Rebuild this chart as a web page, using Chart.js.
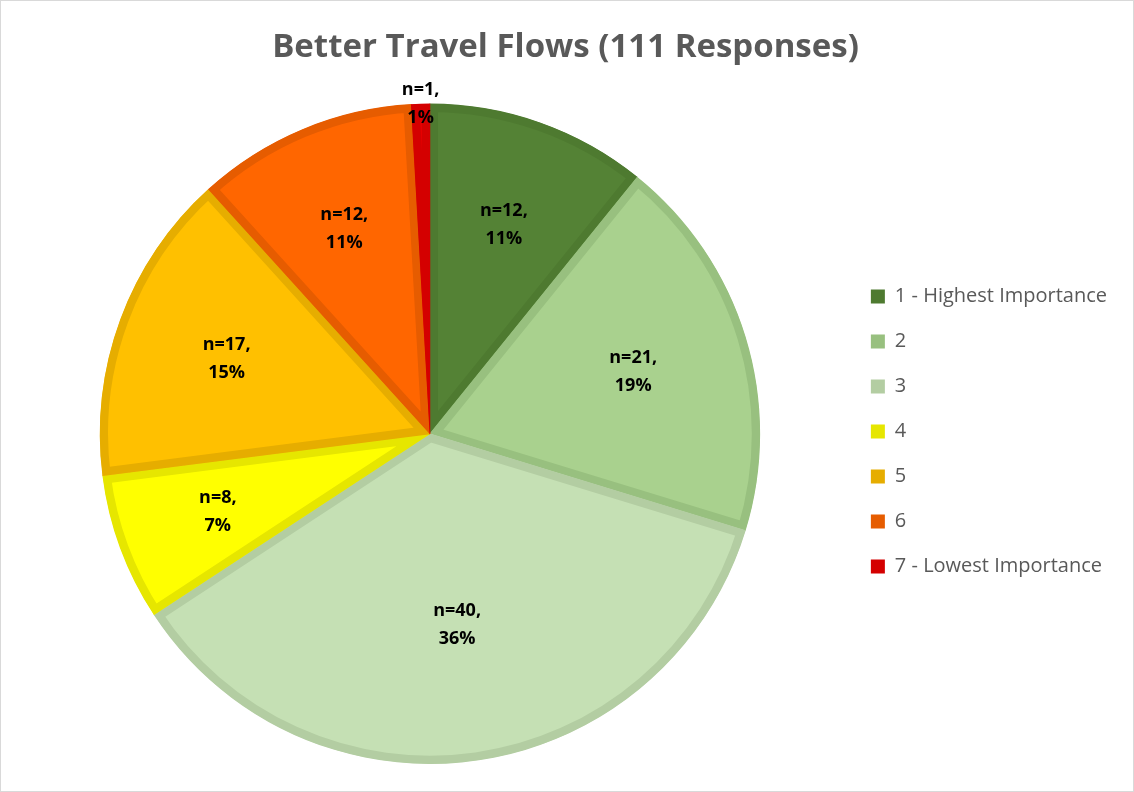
<!DOCTYPE html>
<html>
<head>
<meta charset="utf-8">
<script src="https://cdn.jsdelivr.net/npm/chart.js@4.4.0/dist/chart.umd.min.js"></script>
<style>
  html, body { margin: 0; padding: 0; background: #fff; }
  #wrap { position: relative; width: 1134px; height: 792px; box-sizing: border-box; border: 1px solid #d9d9d9; }
  #pie { display: block; }
</style>
</head>
<body>
<div id="wrap"><canvas id="pie" width="1132" height="790"></canvas></div>
<script>
// data
const labels = ["1 - Highest Importance", "2", "3", "4", "5", "6", "7 - Lowest Importance"];
const counts = [12, 21, 40, 8, 17, 12, 1];
const fillColors = ["#548235", "#a9d18e", "#c5e0b4", "#ffff00", "#ffc000", "#ff6600", "#e80000"];
const edgeColors = ["#4e7a30", "#98c07f", "#b3cda2", "#e6e600", "#e6ad00", "#e65c00", "#d40000"];

const total = counts.reduce(function (a, b) { return a + b; }, 0);

// draws the "n=12, 11%" labels on each slice
const sliceLabels = {
  id: "sliceLabels",
  afterDatasetsDraw: function (chart) {
    const ctx = chart.ctx;
    const meta = chart.getDatasetMeta(0);
    ctx.save();
    ctx.font = "bold 18px 'Open Sans'";
    ctx.fillStyle = "#000";
    ctx.textAlign = "center";
    ctx.textBaseline = "middle";
    meta.data.forEach(function (arc, i) {
      const mid = (arc.startAngle + arc.endAngle) / 2;
      const share = counts[i] / total;
      const small = share < 0.03;
      const r = small ? arc.outerRadius : arc.outerRadius * (0.71 - 0.35 * share);
      const x = arc.x + Math.cos(mid) * r;
      const y = arc.y + Math.sin(mid) * r;
      const pct = Math.round(share * 100) + "%";
      ctx.fillText("n=" + counts[i] + ",", x, y - 14);
      ctx.fillText(pct, x, y + 14);
    });
    ctx.restore();
  }
};

function renderChart() {
  const ctx = document.getElementById("pie").getContext("2d");
  new Chart(ctx, {
    type: "pie",
    data: {
      labels: labels,
      datasets: [{
        data: counts,
        backgroundColor: fillColors,
        borderColor: edgeColors,
        borderWidth: 8,
        borderAlign: "inner"
      }]
    },
    options: {
      responsive: false,
      animation: false,
      layout: { padding: { left: 13, right: 16, top: 0, bottom: 27 } },
      plugins: {
        title: {
          display: true,
          text: "Better Travel Flows (111 Responses)",
          color: "#595959",
          font: { family: "'Open Sans'", size: 33, weight: "bold" },
          padding: { top: 27, bottom: 36 }
        },
        legend: {
          position: "right",
          // empty title only pushes the items down
          title: { display: true, text: "", font: { size: 10 }, padding: { top: 0, bottom: 86 } },
          labels: {
            color: "#595959",
            font: { family: "'Open Sans'", size: 20 },
            boxWidth: 14,
            boxHeight: 14,
            padding: 25,
            generateLabels: function (chart) {
              return labels.map(function (t, i) {
                return { text: t, fillStyle: edgeColors[i], strokeStyle: edgeColors[i], lineWidth: 0, index: i, fontColor: "#595959" };
              });
            }
          }
        },
        tooltip: { enabled: false }
      }
    },
    plugins: [sliceLabels]
  });
}

renderChart();
</script>
</body>
</html>
